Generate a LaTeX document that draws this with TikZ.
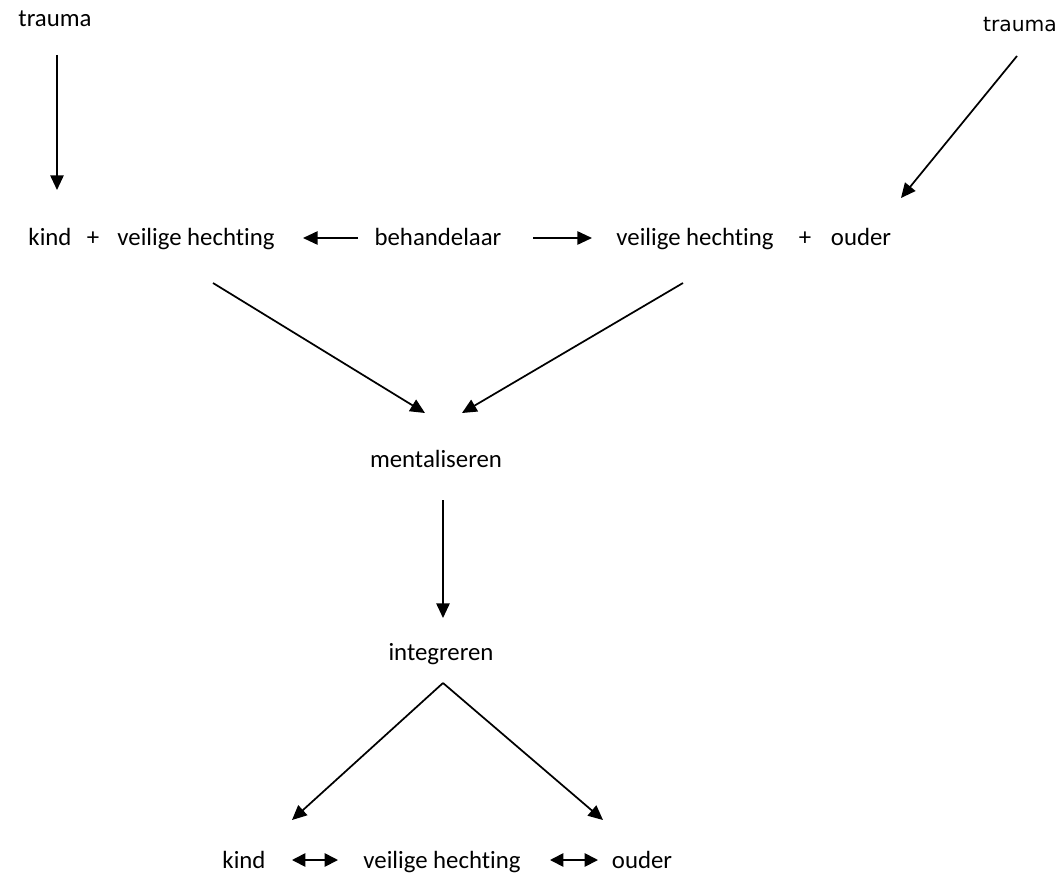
\documentclass[tikz,border=0pt]{standalone}
\usepackage{fontspec}
\setmainfont{Carlito}[Ligatures={NoCommon}]
\newfontfamily\dejavu{DejaVu Sans}
\usetikzlibrary{calc,arrows.meta}
\tikzset{
	tekst/.style={anchor=base, inner sep=0pt, font=\fontsize{18.6}{22}\selectfont},
	pijl/.style={line width=1.3pt, -{Triangle[length=11pt,width=10pt]}},
	dubbelpijl/.style={line width=1.3pt, {Triangle[length=10pt,width=10pt]}-{Triangle[length=10pt,width=10pt]}}
}
\begin{document}
\begin{tikzpicture}[x=0.75pt, y=-0.75pt]
		\useasboundingbox (0,0) rectangle (1063,874);
		% trauma bovenaan
		\node [tekst] (traumaL) at (55,27) {trauma};
		\node [tekst, font=\dejavu\fontsize{15.2}{18}\selectfont] (traumaR) at (1020,32) {trauma};
		% bovenste rij
		\node [tekst] (kindA) at (50,245) {kind};
		\node [tekst] (plusA) at (93,245) {+};
		\node [tekst] (hechtA) at (196,245) {veilige hechting};
		\node [tekst] (behandelaar) at (438,245) {behandelaar};
		\node [tekst] (hechtB) at (695,245) {veilige hechting};
		\node [tekst] (plusB) at (805,245) {+};
		\node [tekst] (ouderA) at (861,245) {ouder};
		% midden
		\node [tekst] (mentaliseren) at (436,467) {mentaliseren};
		\node [tekst] (integreren) at (441,660) {integreren};
		% onderste rij
		\node [tekst] (kindB) at (244,868) {kind};
		\node [tekst] (hechtC) at (442,868) {veilige hechting};
		\node [tekst] (ouderB) at (642,868) {ouder};
		% pijlen
		\draw [pijl] ($(traumaL.base)+(2,28)$) -- ($(kindA.base)+(7,-55)$);
		\draw [pijl] ($(traumaR.base)+(-3,24)$) -- ($(ouderA.base)+(40,-47)$);
		\draw [pijl] ($(behandelaar.base)+(-80,-7)$) -- ($(hechtA.base)+(107,-7)$);
		\draw [pijl] ($(behandelaar.base)+(95,-7)$) -- ($(hechtB.base)+(-103,-7)$);
		\draw [pijl] ($(hechtA.base)+(17,38)$) -- ($(mentaliseren.base)+(-11,-54)$);
		\draw [pijl] ($(hechtB.base)+(-12,38)$) -- ($(mentaliseren.base)+(26,-54)$);
		\draw [pijl] ($(mentaliseren.base)+(7,33)$) -- ($(integreren.base)+(2,-42)$);
		\draw [pijl] ($(integreren.base)+(2,23)$) -- ($(kindB.base)+(48,-48)$);
		\draw [pijl] ($(integreren.base)+(2,23)$) -- ($(ouderB.base)+(-39,-48)$);
		\draw [dubbelpijl] ($(kindB.base)+(48,-8)$) -- ($(hechtC.base)+(-104,-8)$);
		\draw [dubbelpijl] ($(hechtC.base)+(108,-8)$) -- ($(ouderB.base)+(-44,-8)$);
\end{tikzpicture}
\end{document}
